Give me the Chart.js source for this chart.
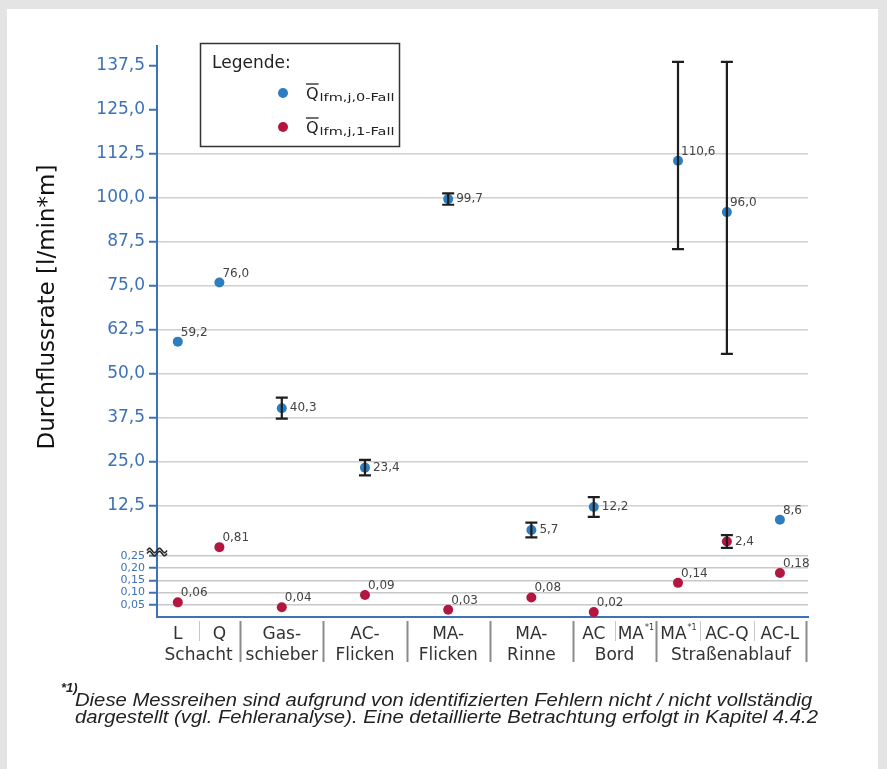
<!DOCTYPE html>
<html>
<head>
<meta charset="utf-8">
<script src="https://cdn.jsdelivr.net/npm/chart.js@4.4.0/dist/chart.umd.min.js"></script>
<style>
  body { margin: 0; width: 887px; height: 769px; overflow: hidden; position: relative; background: #e4e4e4; }
  #panel { position: absolute; left: 7px; top: 9px; width: 871px; height: 760px; background: #fff; }
  #wrap { position: absolute; left: 0; top: 0; }
  .note { position: absolute; font-family: "Liberation Sans", Arial, sans-serif; font-style: italic; color: #222; white-space: nowrap; transform-origin: 0 0; }
</style>
</head>
<body>
<div id="panel"></div>
<div id="wrap"><canvas id="chart" width="887" height="769"></canvas></div>
<div class="note" style="left:61px; top:680px; font-size:13px; font-weight:bold;">*1)</div>
<div class="note" style="left:75px; top:692px; font-size:18px; line-height:17px; transform:scaleX(1.125);">Diese Messreihen sind aufgrund von identifizierten Fehlern nicht / nicht vollständig<br>dargestellt (vgl. Fehleranalyse). Eine detaillierte Betrachtung erfolgt in Kapitel 4.4.2</div>
<script>
// categories (edges of each category on the x axis, in category units)
const categories = ['L', 'Q', 'Gas-schieber', 'AC-Flicken', 'MA-Flicken', 'MA-Rinne', 'AC Bord', 'MA*1 Bord', 'MA*1 Straßenablauf', 'AC-Q', 'AC-L'];
const catEdges = [0, 1, 2, 4, 6, 8, 10, 11, 12, 13.05, 14.35, 15.6];
const topLabels = ['L', 'Q', 'Gas-', 'AC-', 'MA-', 'MA-', 'AC', 'MA*1', 'MA*1', 'AC-Q', 'AC-L'];
const groupLabels = ['Schacht', 'schieber', 'Flicken', 'Flicken', 'Rinne', 'Bord', 'Straßenablauf'];
const groupRanges = [[0, 1], [2, 2], [3, 3], [4, 4], [5, 5], [6, 7], [8, 10]];
const subDividers = [1, 7, 9, 10]; // light separators (edge index)

// Q lfm,j,0-Fall
const q0 = [59.2, 76.0, 40.3, 23.4, 99.7, 5.7, 12.2, null, 110.6, 96.0, 8.6];
const q0Low = [null, null, 37.3, 21.2, 98.1, 3.6, 9.4, null, 85.5, 55.7, null];
const q0High = [null, null, 43.3, 25.6, 101.3, 7.8, 15.0, null, 138.7, 138.7, null];
// Q lfm,j,1-Fall
const q1 = [0.06, 0.81, 0.04, 0.09, 0.03, 0.08, 0.02, null, 0.14, 2.4, 0.18];
const q1Low = [null, null, null, null, null, null, null, null, null, 0.6, null];
const q1High = [null, null, null, null, null, null, null, null, null, 4.2, null];

const yHighTicks = [12.5, 25, 37.5, 50, 62.5, 75, 87.5, 100, 112.5, 125, 137.5];
const yLowTicks = [0.05, 0.10, 0.15, 0.20, 0.25];
const breakValue = 0.25;

const BLUE = '#2d7dbf';
const RED = '#b3173f';
const AXIS = '#3d72b8';

const centers = categories.map((c, i) => (catEdges[i] + catEdges[i + 1]) / 2);

function points(vals, low) {
    const out = [];
    vals.forEach((v, i) => {
        if (v === null) return;
        if ((v <= breakValue) === low) out.push({ x: centers[i], y: v, i: i });
    });
    return out;
}

function fmt(v) {
    return (v < 1 ? v.toFixed(2) : v.toFixed(1)).replace('.', ',');
}

const series = [
    { vals: q0, lo: q0Low, hi: q0High, color: BLUE },
    { vals: q1, lo: q1Low, hi: q1High, color: RED }
];

const decor = {
    id: 'decor',
    afterDatasetsDraw(chart) {
        const ctx = chart.ctx;
        const xs = chart.scales.x;
        // error bars
        series.forEach(s => {
            s.vals.forEach((v, i) => {
                if (v === null || s.lo[i] === null) return;
                const ys = v <= breakValue ? chart.scales.yLow : chart.scales.yHigh;
                const x = xs.getPixelForValue(centers[i]);
                const y1 = ys.getPixelForValue(s.hi[i]);
                const y2 = ys.getPixelForValue(s.lo[i]);
                ctx.save();
                ctx.strokeStyle = '#1e1e1e';
                ctx.lineWidth = 2.2;
                ctx.beginPath();
                ctx.moveTo(x, y1); ctx.lineTo(x, y2);
                ctx.moveTo(x - 6, y1); ctx.lineTo(x + 6, y1);
                ctx.moveTo(x - 6, y2); ctx.lineTo(x + 6, y2);
                ctx.stroke();
                ctx.restore();
            });
        });
        // value labels
        ctx.save();
        ctx.font = '12px "DejaVu Sans"';
        ctx.fillStyle = '#444';
        series.forEach(s => {
            s.vals.forEach((v, i) => {
                if (v === null) return;
                const ys = v <= breakValue ? chart.scales.yLow : chart.scales.yHigh;
                const x = xs.getPixelForValue(centers[i]);
                const y = ys.getPixelForValue(v);
                let beside = false;
                if (s.lo[i] !== null) {
                    beside = ys.getPixelForValue(s.lo[i]) - ys.getPixelForValue(s.hi[i]) < 40;
                }
                if (beside) {
                    ctx.textBaseline = 'middle';
                    ctx.fillText(fmt(v), x + 8, y);
                } else {
                    ctx.textBaseline = 'alphabetic';
                    ctx.fillText(fmt(v), x + 3, y - 6);
                }
            });
        });
        ctx.restore();
    },
    afterDraw(chart) {
        const ctx = chart.ctx;
        const xs = chart.scales.x;
        const area = chart.chartArea;
        ctx.save();

        // separators under the x axis
        for (let e = 1; e < catEdges.length; e++) {
            const x = Math.round(xs.getPixelForValue(catEdges[e])) + 0.5;
            const light = subDividers.includes(e);
            ctx.strokeStyle = light ? '#c8c8c8' : '#8a8a8a';
            ctx.lineWidth = light ? 1 : 2;
            ctx.beginPath();
            ctx.moveTo(x, area.bottom + 4);
            ctx.lineTo(x, area.bottom + (light ? 24 : 45));
            ctx.stroke();
        }

        // category labels
        const labFont = '17px "DejaVu Sans"';
        ctx.fillStyle = '#333';
        ctx.textBaseline = 'alphabetic';
        topLabels.forEach((lab, i) => {
            const x = xs.getPixelForValue(centers[i]);
            const star = lab.indexOf('*');
            if (star >= 0) {
                const main = lab.slice(0, star), sup = lab.slice(star);
                ctx.font = labFont;
                const w1 = ctx.measureText(main).width;
                ctx.font = '8px "DejaVu Sans"';
                const w2 = ctx.measureText(sup).width;
                const x0 = x - (w1 + w2) / 2;
                ctx.textAlign = 'left';
                ctx.font = labFont;
                ctx.fillText(main, x0, area.bottom + 22);
                ctx.font = '8px "DejaVu Sans"';
                ctx.fillText(sup, x0 + w1 + 1, area.bottom + 13);
            } else {
                ctx.textAlign = 'center';
                ctx.font = labFont;
                ctx.fillText(lab, x, area.bottom + 22);
            }
        });
        ctx.textAlign = 'center';
        ctx.font = labFont;
        groupLabels.forEach((lab, g) => {
            const r = groupRanges[g];
            const x = xs.getPixelForValue((catEdges[r[0]] + catEdges[r[1] + 1]) / 2);
            ctx.fillText(lab, x, area.bottom + 43);
        });

        // axis break symbol
        const bx = area.left;
        const by = chart.scales.yLow.top + 2;
        ctx.strokeStyle = '#2a2a2a';
        ctx.lineWidth = 1.6;
        [-1.5, 1.5].forEach(dy => {
            ctx.beginPath();
            for (let t = -10; t <= 10; t++) {
                const px = bx + t;
                const py = by + dy - 2.2 * Math.sin(t / 10 * Math.PI * 2);
                if (t === -10) ctx.moveTo(px, py); else ctx.lineTo(px, py);
            }
            ctx.stroke();
        });

        // y axis title
        ctx.save();
        ctx.translate(48, 307);
        ctx.rotate(-Math.PI / 2);
        ctx.fillStyle = '#111';
        ctx.font = '23px "DejaVu Sans"';
        ctx.textAlign = 'center';
        ctx.textBaseline = 'middle';
        ctx.fillText('Durchflussrate [l/min*m]', 0, 0);
        ctx.restore();

        // legend
        ctx.fillStyle = '#fff';
        ctx.fillRect(200, 43, 200, 104);
        ctx.strokeStyle = '#333';
        ctx.lineWidth = 1.5;
        ctx.strokeRect(200.5, 43.5, 199, 103);
        ctx.fillStyle = '#222';
        ctx.textAlign = 'left';
        ctx.textBaseline = 'alphabetic';
        ctx.font = '17px "DejaVu Sans"';
        ctx.fillText('Legende:', 212, 68);
        [[BLUE, 'lfm,j,0-Fall', 93], [RED, 'lfm,j,1-Fall', 127]].forEach(([c, sub, y]) => {
            ctx.fillStyle = c;
            ctx.beginPath();
            ctx.arc(283, y, 5, 0, Math.PI * 2);
            ctx.fill();
            ctx.fillStyle = '#222';
            ctx.font = '16px "DejaVu Sans"';
            ctx.fillText('Q', 306, y + 6);
            const qw = ctx.measureText('Q').width;
            ctx.strokeStyle = '#222';
            ctx.lineWidth = 1.3;
            ctx.beginPath();
            ctx.moveTo(306, y - 9);
            ctx.lineTo(306 + qw, y - 9);
            ctx.stroke();
            ctx.save();
            ctx.translate(306 + qw + 1, y + 8);
            ctx.scale(1.45, 1);
            ctx.font = '10px "DejaVu Sans"';
            ctx.fillText(sub, 0, 0);
            ctx.restore();
        });
        ctx.restore();
    }
};

new Chart(document.getElementById('chart'), {
    type: 'scatter',
    data: {
        datasets: [
            { data: points(q0, false), yAxisID: 'yHigh', backgroundColor: BLUE, borderColor: BLUE, clip: false },
            { data: points(q0, true), yAxisID: 'yLow', backgroundColor: BLUE, borderColor: BLUE, clip: false },
            { data: points(q1, false), yAxisID: 'yHigh', backgroundColor: RED, borderColor: RED, clip: false },
            { data: points(q1, true), yAxisID: 'yLow', backgroundColor: RED, borderColor: RED, clip: false }
        ]
    },
    options: {
        responsive: false,
        animation: false,
        events: [],
        elements: { point: { radius: 5, borderWidth: 0 } },
        layout: { padding: { left: 10, top: 46, right: 79, bottom: 152 } },
        plugins: { legend: { display: false }, tooltip: { enabled: false } },
        scales: {
            x: {
                type: 'linear',
                min: 0,
                max: 15.65,
                grid: { display: false },
                ticks: { display: false },
                border: { color: AXIS, width: 2 },
                afterFit: s => { s.height = 0; }
            },
            yLow: {
                type: 'linear',
                position: 'left',
                stack: 'y',
                stackWeight: 67,
                min: 0,
                max: 0.2746,
                afterBuildTicks: s => { s.ticks = yLowTicks.map(v => ({ value: v })); },
                afterFit: s => { s.width = 147; },
                ticks: { color: AXIS, font: { family: 'DejaVu Sans', size: 11 }, padding: 4, autoSkip: false, callback: v => v.toFixed(2).replace('.', ',') },
                grid: { color: '#c8c8c8', lineWidth: 1.5, tickColor: AXIS, tickLength: 8, tickWidth: 2 },
                border: { color: AXIS, width: 2 }
            },
            yHigh: {
                type: 'linear',
                position: 'left',
                stack: 'y',
                stackWeight: 504,
                min: 0,
                max: 143.2,
                afterBuildTicks: s => { s.ticks = yHighTicks.map(v => ({ value: v })); },
                afterFit: s => { s.width = 147; },
                ticks: { color: AXIS, font: { family: 'DejaVu Sans', size: 17 }, padding: 4, callback: v => v.toFixed(1).replace('.', ',') },
                grid: {
                    color: c => (c.tick && c.tick.value > 115) ? 'rgba(0,0,0,0)' : '#cfcfcf',
                    lineWidth: 1.5,
                    tickColor: AXIS,
                    tickLength: 8,
                    tickWidth: 2
                },
                border: { color: AXIS, width: 2 }
            }
        }
    },
    plugins: [decor]
});
</script>
</body>
</html>
